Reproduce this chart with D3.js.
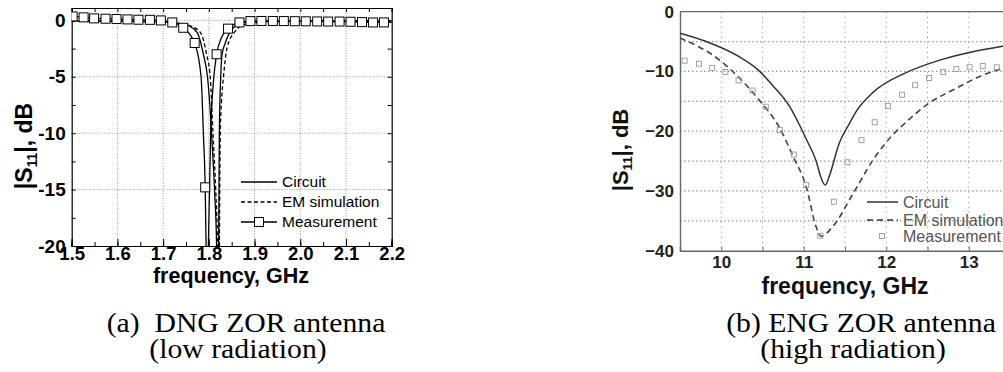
<!DOCTYPE html>
<meta charset="utf-8">
<title>ZOR antenna S11</title>
<style>
  body { margin: 0; background: #fff; }
  svg text { font-family: "Liberation Sans", Arial, sans-serif; }
  svg text.caption { font-family: "Liberation Serif", "Times New Roman", serif; }
</style>
<body>
<div id="fig"></div>
<script src="https://d3js.org/d3.v7.min.js"></script>
<script>

// ---- (a) DNG ZOR antenna ----
const dngCircuitFreq = [1.50, 1.60, 1.70, 1.74, 1.755, 1.775, 1.788, 1.797, 1.803, 1.808, 1.813, 1.817, 1.8195, 1.8215, 1.823, 1.826, 1.829, 1.836, 1.850, 1.875, 1.90, 1.95, 2.05, 2.20];
const dngCircuitDb   = [-0.05, -0.07, -0.15, -0.3, -0.45, -1.1, -3.0, -5.0, -8.0, -11.5, -15.5, -20, -27, -20, -10, -5.0, -3.0, -2.0, -0.82, -0.18, -0.12, -0.08, -0.06, -0.05];

const dngEmFreq = [1.50, 1.60, 1.70, 1.74, 1.76, 1.782, 1.795, 1.803, 1.809, 1.815, 1.819, 1.821, 1.823, 1.825, 1.828, 1.832, 1.840, 1.857, 1.883, 1.92, 1.98, 2.05, 2.20];
const dngEmDb   = [-0.05, -0.07, -0.15, -0.3, -0.5, -1.1, -3.0, -5.0, -10, -15, -20, -28, -20, -10, -7.0, -5.0, -2.4, -1.0, -0.3, -0.15, -0.08, -0.06, -0.05];

const dngMeasLineFreq = [1.500, 1.526, 1.549, 1.574, 1.598, 1.622, 1.646, 1.671, 1.695, 1.720, 1.744, 1.769, 1.783, 1.788, 1.792, 1.794, 1.7965, 1.799, 1.804, 1.811, 1.817, 1.828, 1.842, 1.867, 1.891, 1.915, 1.940, 1.964, 1.988, 2.012, 2.037, 2.061, 2.086, 2.110, 2.135, 2.159, 2.183, 2.20];
const dngMeasLineDb   = [0.35, 0.27, 0.18, 0.15, 0.12, 0.09, 0.06, 0.05, 0.0, -0.18, -0.65, -2.0, -5.0, -10, -14.8, -20, -26, -20, -10, -5.0, -3.0, -1.5, -0.73, -0.18, -0.06, -0.05, -0.05, -0.06, -0.07, -0.08, -0.09, -0.10, -0.10, -0.12, -0.15, -0.18, -0.18, -0.18];

const dngMarkFreq = [1.502, 1.526, 1.549, 1.574, 1.598, 1.622, 1.646, 1.671, 1.695, 1.720, 1.744, 1.769, 1.792, 1.817, 1.842, 1.867, 1.891, 1.915, 1.940, 1.964, 1.988, 2.012, 2.037, 2.061, 2.086, 2.110, 2.135, 2.159, 2.183];
const dngMarkDb   = [0.35, 0.27, 0.18, 0.15, 0.12, 0.09, 0.06, 0.05, 0.0, -0.18, -0.65, -2.0, -14.8, -3.0, -0.73, -0.18, -0.06, -0.05, -0.05, -0.06, -0.07, -0.08, -0.09, -0.10, -0.10, -0.12, -0.15, -0.18, -0.18];

const dngXTicks = [1.5, 1.6, 1.7, 1.8, 1.9, 2.0, 2.1, 2.2];
const dngYTicks = [0, -5, -10, -15, -20];

// ---- (b) ENG ZOR antenna ----
const engCircuitFreq = [9.5, 9.8, 10.2, 10.46, 10.62, 10.83, 10.95, 11.03, 11.15, 11.21, 11.26, 11.31, 11.43, 11.55, 11.64, 11.84, 12.24, 12.65, 13.05, 13.41, 14.0];
const engCircuitDb   = [-3.6, -4.9, -7.4, -9.9, -12.3, -15.9, -19.0, -21.3, -25.0, -27.8, -29.0, -27.5, -22.0, -18.8, -16.6, -13.5, -10.2, -8.1, -6.7, -5.8, -4.5];

const engEmFreq = [9.5, 9.98, 10.22, 10.46, 10.71, 10.87, 11.03, 11.15, 11.21, 11.35, 11.6, 11.84, 12.08, 12.2, 12.52, 12.85, 13.17, 13.41, 14.0];
const engEmDb   = [-4.4, -8.1, -11.1, -14.8, -19.5, -24.2, -29.3, -36.0, -37.6, -36.0, -30.4, -24.8, -20.6, -19.0, -15.3, -12.8, -10.6, -9.5, -7.5];

const engMeasFreq = [9.556, 9.73, 9.89, 10.05, 10.21, 10.38, 10.54, 10.71, 10.88, 11.03, 11.20, 11.365, 11.53, 11.70, 11.86, 12.02, 12.19, 12.35, 12.52, 12.69, 12.85, 13.01, 13.17, 13.34];
const engMeasDb   = [-8.2, -8.7, -9.4, -10.1, -11.5, -13.2, -15.9, -19.8, -23.9, -29.0, -37.5, -31.8, -25.2, -21.5, -18.5, -15.8, -13.9, -12.3, -11.1, -10.1, -9.6, -9.3, -9.1, -9.3];

const engXTicks = [10, 11, 12, 13];
const engYTicks = [0, -10, -20, -30, -40];

const legendNames = ["Circuit", "EM simulation", "Measurement"];

const zip = (a, b) => a.map((v, i) => [v, b[i]]);

const svg = d3.select("#fig").append("svg")
  .attr("width", 1003).attr("height", 372);

// y title with subscript
function yTitle(g, x, y, size, fill) {
  const t = g.append("text")
    .attr("transform", `translate(${x},${y}) rotate(-90)`)
    .attr("text-anchor", "middle").attr("fill", fill)
    .attr("font-size", size).attr("font-weight", "bold");
  t.append("tspan").text("|S");
  t.append("tspan").attr("font-size", size * 0.6).attr("dy", size * 0.2).text("11");
  t.append("tspan").attr("dy", -size * 0.2).text("|, dB");
}

// ================= left panel =================
{
  const x = d3.scaleLinear().domain([1.5, 2.2]).range([71.7, 391.7]);
  const y = d3.scaleLinear().domain([-20, 1.1]).range([246, 8]);
  const g = svg.append("g");

  g.append("clipPath").attr("id", "clipA").append("rect")
    .attr("x", x(1.5)).attr("y", y(1.1)).attr("width", x(2.2) - x(1.5)).attr("height", y(-20) - y(1.1));

  // grid
  g.append("g").selectAll("line").data(dngXTicks.slice(1, -1)).join("line")
    .attr("x1", d => x(d)).attr("x2", d => x(d)).attr("y1", y(1.1)).attr("y2", y(-20))
    .attr("stroke", "#888").attr("stroke-width", 0.8).attr("stroke-dasharray", "1,1.5");
  g.append("g").selectAll("line").data(dngYTicks.slice(0, -1)).join("line")
    .attr("x1", x(1.5)).attr("x2", x(2.2)).attr("y1", d => y(d)).attr("y2", d => y(d))
    .attr("stroke", "#888").attr("stroke-width", 0.8).attr("stroke-dasharray", "1,1.5");

  // axes, ticks inward
  const minorX = d3.range(1.5, 2.2001, 0.05);
  const minorY = d3.range(-20, 0.001, 2.5);
  g.append("g").attr("transform", `translate(0,${y(-20)})`)
    .call(d3.axisBottom(x).tickValues(minorX).tickSize(-4).tickFormat(""));
  g.append("g").attr("transform", `translate(0,${y(-20)})`)
    .call(d3.axisBottom(x).tickValues(dngXTicks).tickSize(-7).tickPadding(1).tickFormat(d3.format(".1f")))
    .call(a => a.selectAll("text").attr("font-size", 18.5).attr("font-weight", "bold").attr("fill", "#000").attr("dy", "0.72em"));
  g.append("g").attr("transform", `translate(0,${y(1.1)})`)
    .call(d3.axisTop(x).tickValues(minorX).tickSize(-4).tickFormat(""));
  g.append("g").attr("transform", `translate(${x(1.5)},0)`)
    .call(d3.axisLeft(y).tickValues(minorY).tickSize(-4).tickPadding(6).tickFormat(d => dngYTicks.includes(d) ? d : ""))
    .call(a => a.selectAll("text").attr("font-size", 19).attr("font-weight", "bold").attr("fill", "#000"));
  g.append("g").attr("transform", `translate(${x(2.2)},0)`)
    .call(d3.axisRight(y).tickValues(minorY).tickSize(-4).tickFormat(""));
  g.selectAll(".domain").attr("stroke", "#000").attr("stroke-width", 1.2);
  g.selectAll(".tick line").attr("stroke", "#000");

  const line = d3.line().x(d => x(d[0])).y(d => y(d[1])).curve(d3.curveMonotoneX);
  const plot = g.append("g").attr("clip-path", "url(#clipA)");
  plot.append("path").datum(zip(dngCircuitFreq, dngCircuitDb)).attr("d", line)
    .attr("fill", "none").attr("stroke", "#000").attr("stroke-width", 1.3);
  plot.append("path").datum(zip(dngEmFreq, dngEmDb)).attr("d", line)
    .attr("fill", "none").attr("stroke", "#000").attr("stroke-width", 1.3).attr("stroke-dasharray", "4,2.5");
  plot.append("path").datum(zip(dngMeasLineFreq, dngMeasLineDb)).attr("d", line)
    .attr("fill", "none").attr("stroke", "#000").attr("stroke-width", 1.3);
  plot.append("g").selectAll("rect").data(zip(dngMarkFreq, dngMarkDb)).join("rect")
    .attr("x", d => x(d[0]) - 4.5).attr("y", d => y(d[1]) - 4.5).attr("width", 9).attr("height", 9)
    .attr("fill", "#fff").attr("stroke", "#000").attr("stroke-width", 1);

  // legend
  const lg = g.append("g");
  const ly = [182, 202, 222];
  lg.selectAll("line").data(legendNames).join("line")
    .attr("x1", 241).attr("x2", 277).attr("y1", (d, i) => ly[i]).attr("y2", (d, i) => ly[i])
    .attr("stroke", "#000").attr("stroke-width", 1.3)
    .attr("stroke-dasharray", (d, i) => i === 1 ? "4,2.5" : null);
  lg.append("rect").attr("x", 259 - 4.5).attr("y", ly[2] - 4.5).attr("width", 9).attr("height", 9)
    .attr("fill", "#fff").attr("stroke", "#000");
  lg.selectAll("text").data(legendNames).join("text")
    .attr("x", 282).attr("y", (d, i) => ly[i]).attr("dy", "0.35em")
    .attr("font-size", 15.5).text(d => d);

  g.append("text").attr("x", 231).attr("y", 283).attr("text-anchor", "middle")
    .attr("font-size", 21.5).attr("font-weight", "bold").text("frequency, GHz");
  yTitle(g, 32, 146, 23, "#000");
}

// ================= right panel =================
{
  const x = d3.scaleLinear().domain([9.5, 14]).range([680, 1051.25]);
  const y = d3.scaleLinear().domain([-40, 0]).range([250.7, 11.7]);
  const g = svg.append("g");
  const axisCol = "#666";

  g.append("clipPath").attr("id", "clipB").append("rect")
    .attr("x", x(9.5)).attr("y", y(0)).attr("width", x(14) - x(9.5)).attr("height", y(-40) - y(0));

  const gridX = d3.range(10, 14, 0.5);
  const gridY = d3.range(-35, 0, 5);
  g.append("g").selectAll("line").data(gridX).join("line")
    .attr("x1", d => x(d)).attr("x2", d => x(d)).attr("y1", y(0)).attr("y2", y(-40))
    .attr("stroke", "#aaa").attr("stroke-width", 1).attr("stroke-dasharray", "1.5,3.5");
  g.append("g").selectAll("line").data(gridY).join("line")
    .attr("x1", x(9.5)).attr("x2", x(14)).attr("y1", d => y(d)).attr("y2", d => y(d))
    .attr("stroke", "#999").attr("stroke-width", 1.2).attr("stroke-dasharray", "1.5,2.5");

  g.append("g").attr("transform", `translate(0,${y(-40)})`)
    .call(d3.axisBottom(x).tickValues(gridX).tickSize(-4).tickPadding(4)
      .tickFormat(d => engXTicks.includes(d) ? d : ""))
    .call(a => a.selectAll("text").attr("font-size", 17).attr("font-weight", "bold").attr("fill", "#222").attr("dy", "0.8em"));
  g.append("g").attr("transform", `translate(${x(9.5)},0)`)
    .call(d3.axisLeft(y).tickValues(engYTicks).tickSize(0).tickPadding(6))
    .call(a => a.selectAll("text").attr("font-size", 17).attr("font-weight", "bold").attr("fill", "#222"));
  g.append("line").attr("x1", x(9.5)).attr("x2", x(14)).attr("y1", y(0)).attr("y2", y(0))
    .attr("stroke", axisCol).attr("stroke-width", 1.2);
  g.selectAll(".domain").attr("stroke", axisCol).attr("stroke-width", 1.4);
  g.selectAll(".tick line").attr("stroke", axisCol);

  const line = d3.line().x(d => x(d[0])).y(d => y(d[1])).curve(d3.curveMonotoneX);
  const plot = g.append("g").attr("clip-path", "url(#clipB)");
  plot.append("path").datum(zip(engCircuitFreq, engCircuitDb)).attr("d", line)
    .attr("fill", "none").attr("stroke", "#333").attr("stroke-width", 1.5);
  plot.append("path").datum(zip(engEmFreq, engEmDb)).attr("d", line)
    .attr("fill", "none").attr("stroke", "#444").attr("stroke-width", 1.6).attr("stroke-dasharray", "6,4");
  plot.append("g").selectAll("rect").data(zip(engMeasFreq, engMeasDb)).join("rect")
    .attr("x", d => x(d[0]) - 2.5).attr("y", d => y(d[1]) - 2.5).attr("width", 5).attr("height", 5)
    .attr("fill", "none").attr("stroke", "#999").attr("stroke-width", 0.9);

  const lg = g.append("g");
  const ly = [202, 220, 236];
  lg.selectAll("line").data(legendNames.slice(0, 2)).join("line")
    .attr("x1", 867).attr("x2", 898).attr("y1", (d, i) => ly[i]).attr("y2", (d, i) => ly[i])
    .attr("stroke", "#333").attr("stroke-width", 1.5)
    .attr("stroke-dasharray", (d, i) => i === 1 ? "6,4" : null);
  lg.append("rect").attr("x", 882 - 2.5).attr("y", ly[2] - 2.5).attr("width", 5).attr("height", 5)
    .attr("fill", "none").attr("stroke", "#999").attr("stroke-width", 0.9);
  lg.selectAll("text").data(legendNames).join("text")
    .attr("x", 903).attr("y", (d, i) => ly[i]).attr("dy", "0.35em")
    .attr("font-size", 16).attr("fill", "#555").text(d => d);

  g.append("text").attr("x", 845).attr("y", 294).attr("text-anchor", "middle")
    .attr("font-size", 23).attr("font-weight", "bold").attr("fill", "#111").text("frequency, GHz");
  yTitle(g, 628, 150, 22, "#111");
}

// captions (the source figure is a little stretched sideways)
const captions = [
  { x: 246, lines: ["(a)  DNG ZOR antenna", "(low radiation)"] },
  { x: 861, lines: ["(b) ENG ZOR antenna", "(high radiation)"] }
];
captions.forEach(c => {
  svg.append("text").attr("class", "caption")
    .attr("transform", `translate(${c.x},331.5) scale(1.1,1)`).attr("text-anchor", "middle")
    .attr("font-size", 27).attr("xml:space", "preserve").text(c.lines[0]);
  svg.append("text").attr("class", "caption")
    .attr("transform", `translate(${c.x - 8},358) scale(1.1,1)`).attr("text-anchor", "middle")
    .attr("font-size", 27).text(c.lines[1]);
});

</script>
</body>
